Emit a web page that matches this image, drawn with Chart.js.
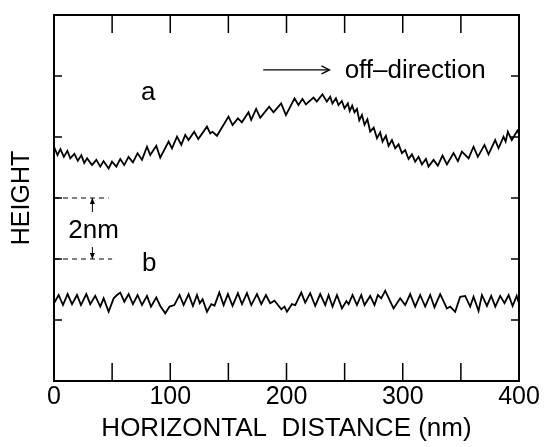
<!DOCTYPE html>
<html>
<head>
<meta charset="utf-8">
<script src="https://cdn.jsdelivr.net/npm/chart.js@4.4.1/dist/chart.umd.min.js"></script>
<style>
  body { margin: 0; background: #fff; }
  canvas { display: block; }
</style>
</head>
<body>
<canvas id="profile" width="545" height="447"></canvas>
<script>
// trace a (off-direction surface), nm
var xA = [0, 3.0, 5.5, 8.5, 11.5, 14.0, 17.5, 20.5, 23.5, 26.0, 28.5, 32.7, 36.4, 39.8, 42.6, 47.0, 49.9,
  53.6, 57.0, 60.4, 64.1, 67.9, 71.9, 75.7, 80.0, 82.8, 88.0, 91.4, 98.6, 101.5, 105.8, 109.5, 112.9,
  115.7, 120.6, 124.1, 131.6, 134.4, 136.4, 140.2, 150.1, 153.6, 158.2, 161.6, 167.3, 169.6, 173.9,
  177.4, 185.1, 188.8, 195.4, 199.5, 206.9, 210.3, 213.7, 216.7, 223.2, 226.1, 230.9, 234.7, 237.6,
  239.5, 242.5, 244.7, 247.6, 249.9, 252.8, 254.4, 256.5, 258.5, 260.6, 262.6, 264.9, 267.1, 269.6,
  272.0, 275.0, 277.8, 280.6, 282.6, 285.5, 287.8, 290.7, 293.5, 296.4, 299.3, 302.1, 305.0, 307.9,
  310.7, 313.6, 316.5, 319.9, 322.2, 326.5, 330.2, 334.2, 338.0, 343.7, 347.4, 350.9, 356.6, 360.9,
  364.6, 370.3, 373.8, 379.5, 382.4, 386.7, 388.5, 390.4, 393.8, 398.6, 400];
var yA = [7.68, 7.41, 7.60, 7.35, 7.55, 7.30, 7.45, 7.22, 7.40, 7.15, 7.30, 7.08, 7.25, 7.03, 7.21, 6.97, 7.19,
  7.03, 7.28, 7.08, 7.35, 7.17, 7.47, 7.25, 7.68, 7.41, 7.71, 7.32, 7.85, 7.63, 8.01, 7.74, 8.07,
  7.90, 8.17, 7.93, 8.34, 8.12, 8.17, 8.04, 8.67, 8.39, 8.61, 8.48, 8.81, 8.56, 8.92,
  8.63, 8.99, 8.81, 9.10, 8.72, 9.27, 9.05, 9.25, 9.07, 9.29, 9.16, 9.40, 9.16, 9.32,
  9.10, 9.27, 9.05, 9.18, 8.94, 9.10, 8.85, 9.03, 8.81, 8.92, 8.55, 8.72, 8.40, 8.58,
  8.18, 8.31, 7.96, 8.15, 7.85, 8.04, 7.71, 7.90, 7.63, 7.76, 7.47, 7.57, 7.28, 7.43,
  7.19, 7.35, 7.10, 7.28, 7.03, 7.25, 7.06, 7.39, 7.10, 7.47, 7.21, 7.52, 7.30, 7.68,
  7.35, 7.74, 7.43, 7.90, 7.63, 8.01, 7.85, 8.17, 7.90, 8.21, 8.10];

// trace b, nm
var xB = [0, 4.0, 7.7, 11.7, 15.5, 19.8, 23.2, 27.8, 31.2, 35.5, 39.8, 42.7, 47.0, 51.3, 54.2, 57.0,
  60.5, 64.2, 67.9, 71.9, 75.7, 80.0, 83.4, 88.0, 91.4, 95.7, 99.4, 103.5, 108.0, 111.5, 115.8, 119.5,
  123.0, 125.4, 127.8, 131.6, 135.3, 138.1, 142.2, 145.9, 149.6, 153.6, 158.2, 161.7, 166.0, 169.7,
  174.6, 178.3, 182.3, 186.0, 189.7, 195.5, 198.3, 200.4, 204.7, 207.5, 212.7, 216.1, 220.4, 224.7,
  229.0, 233.3, 236.2, 239.6, 243.4, 247.7, 251.5, 253.4, 256.8, 260.6, 264.3, 267.1, 272.0, 275.7,
  278.6, 281.5, 284.9, 292.1, 297.8, 302.1, 306.4, 310.7, 315.0, 319.3, 323.6, 327.3, 332.2, 338.0,
  340.8, 345.1, 349.4, 353.7, 358.0, 360.9, 365.2, 368.1, 372.4, 376.1, 379.6, 383.8, 387.5, 391.1,
  394.5, 398.0, 400];
var yB = [2.55, 2.82, 2.49, 2.85, 2.52, 2.82, 2.49, 2.85, 2.52, 2.79, 2.44, 2.71, 2.27, 2.71, 2.82, 2.90,
  2.60, 2.85, 2.52, 2.82, 2.49, 2.79, 2.44, 2.74, 2.46, 2.22, 2.44, 2.49, 2.82, 2.49, 2.85, 2.46,
  2.82, 2.55, 2.68, 2.27, 2.52, 2.47, 2.90, 2.49, 2.85, 2.46, 2.88, 2.52, 2.88, 2.49,
  2.85, 2.52, 2.82, 2.55, 2.63, 2.35, 2.44, 2.27, 2.52, 2.49, 2.90, 2.57, 2.88, 2.46,
  2.85, 2.49, 2.82, 2.44, 2.82, 2.38, 2.62, 2.52, 2.82, 2.49, 2.82, 2.49, 2.79, 2.49,
  2.82, 2.71, 2.96, 2.38, 2.71, 2.49, 2.85, 2.44, 2.82, 2.44, 2.82, 2.42, 2.85, 2.38,
  2.44, 2.27, 2.76, 2.79, 2.44, 2.76, 2.30, 2.82, 2.46, 2.79, 2.44, 2.79, 2.55, 2.82,
  2.46, 2.79, 2.55];

var xMin = 0, xMax = 400, xStep = 50, xLabelStep = 100;
var yMin = 0, yMax = 12, yStep = 2;

var FONT = "'Liberation Sans', Arial, sans-serif";

function pairs(xs, ys) {
  return xs.map(function (x, i) { return { x: x, y: ys[i] }; });
}

function arrowHead(ctx, x, y, dir, len, half, open) {
  // dir: 'up' | 'down' | 'right'
  ctx.beginPath();
  if (dir === 'right') {
    ctx.moveTo(x - len, y - half); ctx.lineTo(x, y); ctx.lineTo(x - len, y + half);
  } else if (dir === 'up') {
    ctx.moveTo(x - half, y + len); ctx.lineTo(x, y); ctx.lineTo(x + half, y + len);
  } else {
    ctx.moveTo(x - half, y - len); ctx.lineTo(x, y); ctx.lineTo(x + half, y - len);
  }
  if (open) { ctx.stroke(); } else { ctx.closePath(); ctx.fill(); }
}

// frame, inward ticks on all sides, labels and the 2nm marker
var framePlugin = {
  id: 'frame',
  afterDatasetsDraw: function (chart) {
    var ctx = chart.ctx, a = chart.chartArea;
    var sx = chart.scales.x, sy = chart.scales.y;
    ctx.save();
    ctx.strokeStyle = '#000';
    ctx.fillStyle = '#000';

    ctx.lineWidth = 1.5;
    sx.ticks.forEach(function (t) {
      var px = sx.getPixelForValue(t.value);
      if (t.value <= xMin || t.value >= xMax) return;
      ctx.beginPath();
      ctx.moveTo(px, a.bottom); ctx.lineTo(px, a.bottom - 18);
      ctx.moveTo(px, a.top); ctx.lineTo(px, a.top + 18);
      ctx.stroke();
    });
    sy.ticks.forEach(function (t) {
      var py = sy.getPixelForValue(t.value);
      if (t.value <= yMin || t.value >= yMax) return;
      ctx.beginPath();
      ctx.moveTo(a.left, py); ctx.lineTo(a.left + 8, py);
      ctx.moveTo(a.right, py); ctx.lineTo(a.right - 8, py);
      ctx.stroke();
    });

    ctx.lineWidth = 2;
    ctx.strokeRect(a.left, a.top, a.right - a.left, a.bottom - a.top);

    // 2nm scale marker
    ctx.lineWidth = 1;
    ctx.setLineDash([5, 4]);
    ctx.beginPath();
    ctx.moveTo(a.left, sy.getPixelForValue(6)); ctx.lineTo(sx.getPixelForValue(47), sy.getPixelForValue(6));
    ctx.moveTo(a.left, sy.getPixelForValue(4)); ctx.lineTo(sx.getPixelForValue(50), sy.getPixelForValue(4));
    ctx.stroke();
    ctx.setLineDash([]);
    var mx = sx.getPixelForValue(33);
    var top6 = sy.getPixelForValue(6), bot4 = sy.getPixelForValue(4);
    ctx.beginPath();
    ctx.moveTo(mx, top6); ctx.lineTo(mx, top6 + 14);
    ctx.moveTo(mx, bot4); ctx.lineTo(mx, bot4 - 12);
    ctx.stroke();
    arrowHead(ctx, mx, top6, 'up', 6, 2.5, false);
    arrowHead(ctx, mx, bot4, 'down', 6, 2.5, false);

    // off-direction arrow
    var ay = sy.getPixelForValue(10.2);
    ctx.lineWidth = 1.3;
    ctx.beginPath();
    ctx.moveTo(sx.getPixelForValue(180), ay); ctx.lineTo(sx.getPixelForValue(237), ay);
    ctx.stroke();
    arrowHead(ctx, sx.getPixelForValue(237), ay, 'right', 8, 4, true);

    ctx.font = '26px ' + FONT;
    ctx.textBaseline = 'alphabetic';
    ctx.textAlign = 'left';
    ctx.fillText('off\u2013direction', sx.getPixelForValue(250), sy.getPixelForValue(9.93));
    ctx.textAlign = 'center';
    ctx.fillText('a', sx.getPixelForValue(81), sy.getPixelForValue(9.21));
    ctx.fillText('b', sx.getPixelForValue(82), sy.getPixelForValue(3.61));
    ctx.fillText('2nm', sx.getPixelForValue(34), sy.getPixelForValue(4.68));
    ctx.restore();
  }
};

var canvas = document.getElementById('profile');
var chart = new Chart(canvas, {
  type: 'scatter',
  data: {
    datasets: [
      { label: 'a', data: pairs(xA, yA), showLine: true, borderColor: '#000', borderWidth: 1.8,
        pointRadius: 0, tension: 0 },
      { label: 'b', data: pairs(xB, yB), showLine: true, borderColor: '#000', borderWidth: 1.8,
        pointRadius: 0, tension: 0 }
    ]
  },
  options: {
    responsive: false,
    animation: false,
    layout: { padding: { top: 15, right: 26, left: 0, bottom: 0 } },
    plugins: { legend: { display: false }, tooltip: { enabled: false } },
    scales: {
      x: {
        type: 'linear', min: xMin, max: xMax,
        grid: { display: false, drawTicks: false },
        border: { display: false },
        ticks: {
          stepSize: xStep, autoSkip: false, maxRotation: 0, padding: 1, color: '#000',
          font: { family: FONT, size: 25 },
          callback: function (v) { return v % xLabelStep === 0 ? v : ''; }
        },
        title: {
          display: true, text: 'HORIZONTAL  DISTANCE (nm)', color: '#000',
          font: { family: FONT, size: 26 }, padding: { top: 0, bottom: 3 }
        },
        afterFit: function (s) { s.height = 66; }
      },
      y: {
        min: yMin, max: yMax,
        grid: { display: false, drawTicks: false },
        border: { display: false },
        ticks: { stepSize: yStep, display: false },
        title: {
          display: true, text: 'HEIGHT', color: '#000',
          font: { family: FONT, size: 25 }, padding: { top: 7, bottom: 0 }
        },
        afterFit: function (s) { s.width = 54; }
      }
    }
  },
  plugins: [framePlugin]
});
</script>
</body>
</html>
